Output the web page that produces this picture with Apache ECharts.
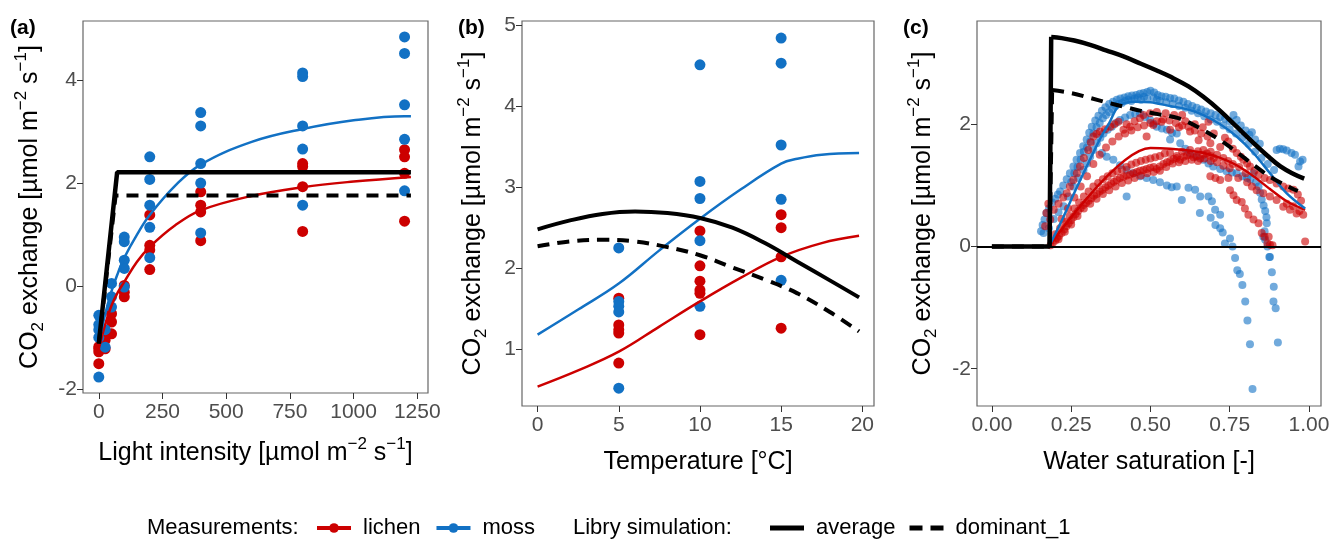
<!DOCTYPE html>
<html>
<head>
<meta charset="utf-8">
<script src="https://cdn.jsdelivr.net/npm/echarts@6/dist/echarts.min.js"></script>
<style>
  html, body { margin: 0; padding: 0; background: #fff; }
  #chart { width: 1333px; height: 540px; }
</style>
</head>
<body>
<div id="chart"></div>
<script>
// colours
const RED = '#CC0000'
const BLUE = '#1271C4'
const FONT = '"Liberation Sans", Arial, sans-serif'

// ---- panel (a): light response ----
const aXTicks = [0, 250, 500, 750, 1000, 1250]
const aYTicks = [-2, 0, 2, 4]
const lichenA = [[0,-1.22],[0,-1.28],[0,-1.51],[0,-1.18],[25,-1.22],[25,-1.05],[50,-0.54],[50,-0.70],[50,-0.93],
  [100,0.01],[100,-0.21],[100,-0.12],[200,1.38],[200,0.79],[200,0.70],[200,0.32],[400,1.83],[400,1.57],[400,1.44],[400,0.88],
  [800,2.38],[800,2.32],[800,1.93],[800,1.06],[1200,2.65],[1200,2.51],[1200,2.19],[1200,1.26]]
const mossA = [[0,-0.57],[0,-0.75],[0,-1.0],[0,-1.77],[0,-0.85],[25,-1.19],[25,-0.85],[50,0.05],[50,-0.21],[50,-0.41],
  [100,0.95],[100,0.86],[100,0.50],[100,0.34],[100,-0.02],[200,2.51],[200,2.07],[200,1.57],[200,1.14],[200,0.55],
  [400,3.37],[400,3.11],[400,2.38],[400,2.0],[400,1.03],[800,4.14],[800,4.07],[800,3.11],[800,2.66],[800,1.57],
  [1200,4.84],[1200,4.52],[1200,3.52],[1200,2.85],[1200,1.85]]
const lichenFitA = [[0,-1.22],[25,-0.75],[50,-0.38],[75,-0.12],[100,0.08],[150,0.47],[200,0.76],[300,1.18],[400,1.47],
  [600,1.75],[800,1.92],[1000,2.03],[1225,2.12]]
const mossFitA = [[0,-1.1],[25,-0.55],[50,-0.1],[75,0.25],[100,0.55],[150,1.0],[200,1.38],[300,1.95],[400,2.36],
  [600,2.8],[800,3.05],[1000,3.22],[1200,3.3],[1225,3.3]]
const avgA = [[0,-1.12],[72,2.21],[1225,2.21]]
const domA = [[0,-1.12],[66,1.76],[1225,1.76]]

// ---- panel (b): temperature response ----
const bXTicks = [0, 5, 10, 15, 20]
const bYTicks = [1, 2, 3, 4, 5]
const lichenB = [[5,1.63],[5,1.30],[5,1.24],[5,1.20],[5,0.83],[10,2.46],[10,2.03],[10,1.84],[10,1.73],[10,1.69],[10,1.18],
  [15,2.66],[15,2.50],[15,2.14],[15,1.26]]
const mossB = [[5,2.25],[5,1.59],[5,1.53],[5,1.46],[5,0.52],[10,4.51],[10,3.07],[10,2.86],[10,2.34],[10,1.53],
  [15,4.84],[15,4.53],[15,3.52],[15,2.85],[15,1.85]]
const lichenFitB = [[0,0.54],[2.5,0.74],[5,0.97],[7.5,1.28],[10,1.59],[12.5,1.88],[15,2.14],[17.5,2.31],[19.8,2.40]]
const mossFitB = [[0,1.18],[2.5,1.49],[5,1.81],[7.5,2.22],[10,2.61],[12.5,2.97],[15,3.29],[16,3.35],[17.5,3.40],[19.8,3.42]]
const avgB = [[0,2.48],[2,2.59],[4,2.67],[6,2.70],[8,2.68],[10,2.62],[12,2.50],[14,2.31],[16,2.08],[18,1.85],[19.8,1.64]]
const domB = [[0,2.27],[2,2.33],[4,2.35],[6,2.33],[8,2.26],[10,2.16],[12,2.01],[14,1.86],[16,1.69],[18,1.46],[19.8,1.22]]

// ---- panel (c): water saturation response ----
const cXTicks = [0, 0.25, 0.5, 0.75, 1]
const cYTicks = [-2, 0, 2]
const lichenC = [
  [0.185,0.02],[0.192,0.06],[0.200,0.10],[0.205,0.14],[0.212,0.17],[0.220,0.22],[0.228,0.28],[0.235,0.33],[0.242,0.38],
  [0.250,0.43],[0.257,0.48],[0.264,0.53],[0.272,0.58],[0.280,0.63],[0.289,0.68],[0.297,0.71],[0.305,0.75],[0.314,0.79],
  [0.322,0.83],[0.331,0.86],[0.340,0.90],[0.349,0.93],[0.358,0.97],[0.367,1.00],[0.376,1.03],[0.385,1.06],[0.394,1.09],
  [0.404,1.12],[0.415,1.14],[0.425,1.16],[0.436,1.18],[0.446,1.20],[0.457,1.22],[0.467,1.24],[0.478,1.25],[0.488,1.27],
  [0.499,1.29],[0.510,1.30],[0.520,1.27],[0.530,1.31],[0.541,1.35],[0.552,1.38],[0.562,1.40],[0.573,1.43],[0.583,1.45],
  [0.594,1.42],[0.605,1.47],[0.615,1.49],[0.625,1.50],[0.636,1.46],[0.646,1.48],[0.657,1.44],[0.667,1.50],[0.678,1.52],
  [0.689,1.48],[0.700,1.45],
  [0.200,0.20],[0.215,0.30],[0.230,0.40],[0.245,0.50],[0.260,0.62],[0.275,0.72],[0.290,0.82],[0.305,0.90],[0.320,0.98],
  [0.335,1.04],[0.350,1.10],[0.365,1.15],[0.380,1.20],[0.395,1.23],[0.410,1.26],[0.425,1.30],[0.440,1.34],[0.455,1.37],
  [0.470,1.40],[0.485,1.42],[0.500,1.44],[0.515,1.46],[0.530,1.48],[0.545,1.52],[0.562,1.53],[0.583,1.48],[0.600,1.55],
  [0.625,1.58],[0.650,1.56],[0.667,1.58],[0.690,1.55],[0.710,1.50],[0.730,1.45],[0.745,1.40],[0.760,1.35],[0.780,1.30],
  [0.800,1.20],
  [0.210,0.12],[0.230,0.24],[0.250,0.36],[0.270,0.50],[0.290,0.62],[0.310,0.70],[0.330,0.78],[0.350,0.86],[0.370,0.92],
  [0.390,0.98],[0.410,1.04],[0.430,1.08],[0.450,1.12],[0.470,1.16],[0.490,1.20],[0.510,1.22],[0.530,1.24],[0.550,1.30],
  [0.570,1.36],[0.590,1.38],[0.610,1.40],[0.630,1.42],[0.650,1.40],[0.670,1.44],[0.690,1.40],[0.710,1.38],[0.730,1.32],
  [0.750,1.28],
  [0.689,1.15],[0.705,1.12],[0.720,1.09],[0.746,1.12],[0.777,1.12],[0.751,0.92],[0.762,0.84],[0.772,0.76],[0.788,0.73],
  [0.798,0.62],[0.809,0.52],[0.825,0.44],[0.841,0.38],[0.851,0.22],[0.860,0.16],[0.869,0.05],[0.873,0.16],[0.877,0.03],
  [0.885,0.02],
  [0.805,1.05],[0.820,0.98],[0.835,0.92],[0.856,0.87],[0.877,0.82],[0.898,0.76],[0.919,0.65],[0.930,0.70],[0.940,0.60],
  [0.950,0.66],[0.961,0.54],[0.970,0.58],[0.982,0.52],[0.988,0.08],
  [0.168,0.33],[0.172,0.55],[0.178,0.70],[0.184,0.44],[0.195,0.60],[0.210,0.70],[0.225,0.80],[0.236,0.87],[0.246,0.98],
  [0.257,1.09],[0.268,1.20],[0.278,1.31],[0.290,1.45],[0.304,1.58],[0.312,1.70],[0.320,1.80],[0.330,1.84],[0.341,1.88],
  [0.357,1.92],[0.373,1.96],[0.386,2.00],[0.399,2.04],[0.415,1.91],[0.425,2.00],[0.436,1.96],[0.450,2.05],[0.467,2.10],
  [0.478,2.15],[0.488,1.80],[0.499,2.18],[0.509,1.99],[0.520,2.20],[0.535,2.04],[0.548,2.18],[0.562,1.91],[0.575,2.15],
  [0.590,1.95],[0.600,2.15],[0.610,2.05],[0.625,1.88],[0.640,2.00],[0.652,1.74],[0.665,1.95],[0.683,2.04],[0.689,1.69],
  [0.700,1.85],[0.720,1.63],[0.735,1.78],[0.746,1.72],[0.760,1.60],[0.772,1.53],[0.785,1.47],[0.793,1.42],[0.805,1.36],
  [0.814,1.31],[0.828,1.24],[0.841,1.17],[0.860,1.12],[0.877,1.09],[0.898,1.03],[0.919,0.98],[0.935,0.95],[0.951,0.93],
  [0.965,0.85],[0.975,0.75],
  [0.220,0.45],[0.240,0.62],[0.260,0.80],[0.280,0.98],[0.300,1.15],[0.320,1.35],[0.340,1.50],[0.360,1.62],[0.380,1.72],
  [0.400,1.80],[0.420,1.85],[0.440,1.90],[0.460,1.95],[0.480,1.98],[0.500,2.02],[0.520,2.05],[0.540,2.08],[0.560,2.06],
  [0.580,2.02],[0.600,1.98],[0.620,1.96],[0.640,1.90],[0.660,1.85],[0.680,1.80]]
const mossC = [
  [0.155,0.25],[0.160,0.35],[0.163,0.22],[0.166,0.44],[0.172,0.55],[0.180,0.62],[0.190,0.72],[0.200,0.78],[0.208,0.85],
  [0.215,0.90],[0.225,1.00],[0.236,1.10],[0.246,1.20],[0.257,1.31],[0.267,1.42],[0.278,1.53],[0.288,1.64],[0.299,1.75],
  [0.307,1.86],[0.315,1.96],[0.326,2.06],[0.336,2.14],[0.347,2.22],[0.358,2.28],[0.370,2.33],[0.382,2.37],[0.394,2.40],
  [0.405,2.42],[0.418,2.44],[0.430,2.46],[0.442,2.47],[0.455,2.48],[0.467,2.50],[0.478,2.51],[0.490,2.53],[0.500,2.55],
  [0.512,2.52],[0.523,2.48],[0.535,2.46],[0.548,2.45],[0.562,2.43],[0.575,2.42],[0.590,2.39],[0.604,2.37],[0.618,2.33],
  [0.632,2.30],[0.646,2.27],[0.660,2.24],[0.675,2.21],[0.690,2.18],[0.705,2.15],[0.720,2.12],[0.735,2.09],[0.750,2.05],
  [0.762,2.15],[0.772,2.07],[0.785,1.98],[0.800,1.90],[0.812,1.83],[0.820,1.87],[0.830,1.75],[0.845,1.68],
  [0.898,1.58],[0.908,1.60],[0.919,1.59],[0.930,1.57],[0.945,1.53],[0.956,1.50],[0.972,1.39],[0.967,1.31],[0.980,1.42],
  [0.180,0.30],[0.195,0.45],[0.210,0.56],[0.226,0.66],[0.240,0.82],[0.257,0.98],[0.272,1.12],[0.289,1.25],[0.300,1.36],
  [0.310,1.47],[0.320,1.58],[0.331,1.69],[0.342,1.78],[0.352,1.85],[0.365,1.91],[0.378,1.96],[0.391,2.02],[0.404,2.07],
  [0.420,2.11],[0.436,2.15],[0.452,2.17],[0.467,2.18],[0.483,2.12],[0.499,2.07],[0.510,2.01],[0.520,1.96],[0.536,1.93],
  [0.552,1.91],[0.562,1.75],[0.568,1.86],[0.583,1.85],[0.594,1.69],[0.610,1.60],[0.625,1.53],[0.645,1.47],[0.667,1.42],
  [0.683,1.36],[0.698,1.31],[0.720,1.27],[0.740,1.23],[0.757,1.21],[0.772,1.20],[0.790,1.15],[0.805,1.12],[0.815,1.10],
  [0.825,1.20],[0.833,1.05],[0.841,0.98],[0.846,0.88],[0.851,0.77],[0.857,0.67],[0.862,0.58],[0.866,0.48],[0.867,0.38],
  [0.860,0.25],[0.856,0.16],[0.862,0.11],[0.869,0.00],[0.875,-0.17],[0.877,-0.17],[0.883,-0.42],[0.889,-0.66],
  [0.888,-0.90],[0.895,-1.01],[0.902,-1.57],
  [0.347,1.53],[0.362,1.47],[0.383,1.42],[0.404,1.33],[0.425,1.25],[0.446,1.20],[0.467,1.15],[0.488,1.12],[0.509,1.09],
  [0.530,1.05],[0.552,1.00],[0.567,0.97],[0.583,0.98],[0.599,0.76],[0.620,0.96],[0.641,0.93],[0.657,0.82],[0.656,0.55],
  [0.683,0.82],[0.690,0.47],[0.694,0.74],[0.704,0.60],[0.705,0.35],[0.720,0.52],[0.720,0.30],[0.728,0.23],[0.735,0.05],
  [0.751,0.13],[0.759,0.00],[0.767,-0.19],[0.774,-0.39],[0.782,-0.45],[0.790,-0.63],[0.799,-0.90],[0.806,-1.21],
  [0.814,-1.60],[0.822,-2.33],
  [0.425,0.82],
  [0.250,1.05],[0.260,1.20],[0.270,1.30],[0.280,1.42],[0.290,1.55],[0.300,1.62],[0.310,1.72],[0.320,1.85],[0.330,1.95],
  [0.340,2.02],[0.350,2.10],[0.360,2.15],[0.370,2.20],[0.380,2.25],[0.390,2.30],[0.400,2.33],[0.410,2.35],[0.420,2.38],
  [0.430,2.40],[0.440,2.38],[0.450,2.42],[0.460,2.44],[0.470,2.40],[0.480,2.45],[0.490,2.42],[0.510,2.44],[0.520,2.40],
  [0.530,2.38],[0.550,2.36],[0.570,2.33],[0.590,2.30],[0.610,2.27],[0.630,2.22],[0.650,2.18],[0.670,2.13],[0.690,2.08],
  [0.710,2.04],[0.730,1.98],[0.750,1.92],[0.770,1.85],[0.790,1.78],[0.810,1.68],[0.830,1.55],[0.850,1.45],[0.870,1.35],
  [0.890,1.25]]
const lichenFitC = [[0.18,0],[0.50,1.61],[0.562,1.60],[0.62,1.57],[0.667,1.53],[0.72,1.45],[0.772,1.33],[0.825,1.15],
  [0.877,0.94],[0.93,0.74],[0.988,0.60]]
const mossFitC = [[0.18,0],[0.22,0.42],[0.26,0.88],[0.30,1.32],[0.34,1.75],[0.37,2.02],[0.40,2.30],[0.45,2.37],[0.50,2.36],
  [0.562,2.30],[0.62,2.24],[0.667,2.15],[0.72,2.00],[0.772,1.80],[0.825,1.53],[0.877,1.20],[0.93,0.87],[0.988,0.62]]
// the simulations jump at the wetting threshold: straight part, then the smooth curve
const avgRiseC = [[0,0],[0.182,0],[0.187,3.43]]
const avgC = [[0.187,3.43],[0.22,3.41],[0.26,3.37],[0.31,3.30],[0.36,3.21],[0.415,3.11],[0.47,2.99],
  [0.52,2.88],[0.562,2.78],[0.62,2.62],[0.667,2.45],[0.72,2.22],[0.772,1.96],[0.82,1.72],[0.87,1.48],[0.91,1.31],
  [0.95,1.19],[0.985,1.11]]
const domRiseC = [[0,0],[0.182,0],[0.19,2.56]]
const domC = [[0.19,2.56],[0.25,2.51],[0.31,2.43],[0.36,2.36],[0.415,2.29],[0.47,2.22],[0.52,2.17],
  [0.588,2.10],[0.651,1.95],[0.714,1.76],[0.766,1.57],[0.829,1.32],[0.881,1.13],[0.947,0.95],[0.965,0.91]]

const rich = {
  n: { fontSize: 25, lineHeight: 34, color: '#000', fontFamily: FONT },
  sub: { fontSize: 17, lineHeight: 16, verticalAlign: 'bottom', color: '#000', fontFamily: FONT },
  sup: { fontSize: 17, lineHeight: 16, verticalAlign: 'top', color: '#000', fontFamily: FONT }
}
const CO2_NAME = '{n|CO}{sub|2}{n| exchange [µmol m}{sup|−2}{n| s}{sup|−1}{n|]}'
const LIGHT_NAME = '{n|Light intensity [µmol m}{sup|−2}{n| s}{sup|−1}{n|]}'

const xAxis = (g, min, max, ticks, name, nameGap, fmt) => ({
  gridIndex: g, type: 'value', min, max,
  name, nameLocation: 'middle', nameGap,
  nameTextStyle: { rich },
  axisLine: { show: false, onZero: false },
  splitLine: { show: false },
  axisTick: { show: true, length: 6, lineStyle: { color: '#333', width: 1 }, customValues: ticks },
  axisLabel: { customValues: ticks, color: '#4d4d4d', fontSize: 21, fontFamily: FONT, margin: 9,
    formatter: fmt || (v => String(v)) }
})
const yAxis = (g, min, max, ticks, nameGap) => ({
  gridIndex: g, type: 'value', min, max,
  name: CO2_NAME, nameLocation: 'middle', nameRotate: 90, nameGap,
  nameTextStyle: { rich },
  axisLine: { show: false, onZero: false },
  splitLine: { show: false },
  axisTick: { show: true, length: 6, lineStyle: { color: '#333', width: 1 }, customValues: ticks },
  axisLabel: { customValues: ticks, color: '#4d4d4d', fontSize: 21, fontFamily: FONT, margin: 6,
    formatter: v => String(v) }
})

const pts = (name, g, data, color, size, opacity) => ({
  name, type: 'scatter', xAxisIndex: g, yAxisIndex: g, data, symbolSize: size, silent: true,
  itemStyle: { color, opacity }
})
const line = (name, g, data, color, width, dashed, smooth) => ({
  name, type: 'line', xAxisIndex: g, yAxisIndex: g, data, symbol: 'circle', symbolSize: 10, showSymbol: false,
  smooth: smooth || false, silent: true,
  lineStyle: { color, width, type: dashed ? [12, 8] : 'solid', cap: 'butt' },
  itemStyle: { color }
})

const gridStyle = { show: true, borderColor: '#666', borderWidth: 1.2, outerBoundsMode: 'none', containLabel: false }

const option = {
  animation: false,
  textStyle: { fontFamily: FONT },
  grid: [
    { ...gridStyle, left: 83, top: 21, width: 345, height: 372 },
    { ...gridStyle, left: 522, top: 21, width: 352, height: 385 },
    { ...gridStyle, left: 977, top: 21, width: 344, height: 385 }
  ],
  xAxis: [
    xAxis(0, -62, 1292, aXTicks, LIGHT_NAME, 43),
    xAxis(1, -0.96, 20.72, bXTicks, '{n|Temperature [°C]}', 39),
    xAxis(2, -0.047, 1.038, cXTicks, '{n|Water saturation [-]}', 39, v => v.toFixed(2))
  ],
  yAxis: [
    yAxis(0, -2.08, 5.15, aYTicks, 36),
    yAxis(1, 0.30, 5.05, bYTicks, 32),
    yAxis(2, -2.61, 3.69, cYTicks, 37)
  ],
  legend: [
    {
      left: 310, top: 512, itemWidth: 34, itemHeight: 12, itemGap: 14,
      data: ['lichen', 'moss'],
      lineStyle: { width: 4 },
      textStyle: { fontSize: 22, color: '#000', fontFamily: FONT, padding: [0, 0, 0, 7] },
      selectedMode: false
    },
    {
      left: 765, top: 512, itemWidth: 34, itemHeight: 12, itemGap: 14,
      data: [
        { name: 'average', icon: 'path://M0,0H34V5H0Z' },
        { name: 'dominant_1', icon: 'path://M0,0H13V5H0Z M21,0H34V5H21Z' }
      ],
      textStyle: { fontSize: 22, color: '#000', fontFamily: FONT, padding: [0, 0, 0, 7] },
      selectedMode: false
    }
  ],
  graphic: [
    { type: 'text', left: 10, top: 18, style: { text: '(a)', font: 'bold 21px ' + FONT, fill: '#000' } },
    { type: 'text', left: 458, top: 18, style: { text: '(b)', font: 'bold 21px ' + FONT, fill: '#000' } },
    { type: 'text', left: 903, top: 18, style: { text: '(c)', font: 'bold 21px ' + FONT, fill: '#000' } },
    { type: 'text', left: 147, top: 517, style: { text: 'Measurements:', font: '22px ' + FONT, fill: '#000' } },
    { type: 'text', left: 573, top: 517, style: { text: 'Libry simulation:', font: '22px ' + FONT, fill: '#000' } }
  ],
  series: [
    // empty line series first so the legend takes the line+dot icon
    line('lichen', 0, [], RED, 2.5),
    line('moss', 0, [], BLUE, 2.5),
    line('average', 0, [], '#000', 4),
    line('dominant_1', 0, [], '#000', 4, true),
    // (a)
    pts('lichen', 0, lichenA, RED, 11, 1),
    pts('moss', 0, mossA, BLUE, 11, 1),
    line('lichen', 0, lichenFitA, RED, 2.5, false, 0.4),
    line('moss', 0, mossFitA, BLUE, 2.5, false, 0.4),
    line('dominant_1', 0, domA, '#000', 4, true),
    line('average', 0, avgA, '#000', 4.5, false),
    // (b)
    pts('lichen', 1, lichenB, RED, 11, 1),
    pts('moss', 1, mossB, BLUE, 11, 1),
    line('lichen', 1, lichenFitB, RED, 2.5, false, 0.4),
    line('moss', 1, mossFitB, BLUE, 2.5, false, 0.4),
    line('average', 1, avgB, '#000', 4, false, 0.4),
    line('dominant_1', 1, domB, '#000', 4, true, 0.4),
    // (c)
    pts('moss', 2, mossC, BLUE, 8, 0.6),
    pts('lichen', 2, lichenC, RED, 8, 0.6),
    {
      type: 'line', xAxisIndex: 2, yAxisIndex: 2, data: [], silent: true,
      markLine: { silent: true, symbol: 'none', label: { show: false },
        lineStyle: { color: '#000', width: 2, type: 'solid' }, data: [{ yAxis: 0 }] }
    },
    line('lichen', 2, lichenFitC, RED, 2.5, false, 0.3),
    line('moss', 2, mossFitC, BLUE, 2.5, false, 0.3),
    line('dominant_1', 2, domRiseC, '#000', 4, true),
    line('dominant_1', 2, domC, '#000', 4, true, 0.4),
    line('average', 2, avgRiseC, '#000', 4.5, false),
    line('average', 2, avgC, '#000', 4.5, false, 0.4)
  ]
}

const chart = echarts.init(document.getElementById('chart'), null, { renderer: 'canvas' })
chart.setOption(option)
</script>
</body>
</html>
